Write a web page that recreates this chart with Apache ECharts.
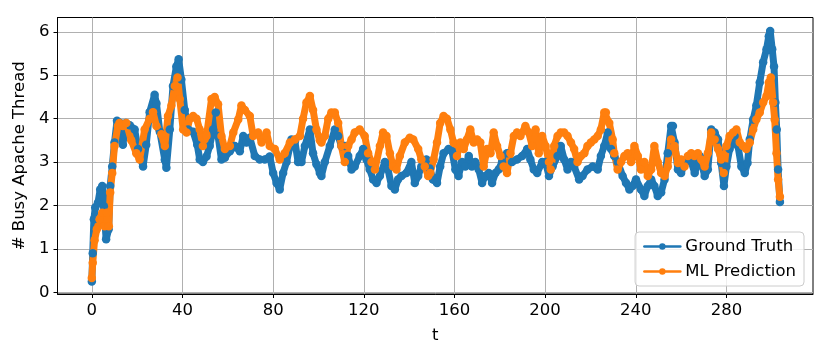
<!DOCTYPE html>
<html>
<head>
<meta charset="utf-8">
<script src="https://cdn.jsdelivr.net/npm/echarts@6/dist/echarts.min.js"></script>
<style>
html,body{margin:0;padding:0;background:#fff;}
#chart{width:831px;height:358px;}
</style>
</head>
<body>
<div id="chart"></div>
<script>
// ---- data ----
var xTicks = [0, 40, 80, 120, 160, 200, 240, 280];
var yTicks = [0, 1, 2, 3, 4, 5, 6];

var gtT = [0,0.4,0.9,1.5,2.7,3.7,4.6,5.3,6.3,7.4,8.1,9,10,11.1,12.5,13.7,15,16.7,18.9,20.4,22.6,24,25.5,27.7,28.5,30,32.2,32.9,34.4,35.8,37.3,38.3,39.5,41,42.5,44.7,46.5,47.6,49,50.6,52,53.5,54.7,55.7,57.2,58.7,60.9,63.1,65.3,66.8,68.2,69.7,71.9,74.1,76.3,78.5,80,81.5,82.9,84.4,85.9,88.1,89.6,91,92.5,94,96.2,97.6,99.1,100.6,101.3,102.8,105,107.2,108.7,110.1,111.6,113.1,114.6,116,118.2,119.7,121.2,122.6,124.1,125.6,127.1,129.3,130.7,132.2,133.7,135.1,136.6,138.8,141,142.5,144,145.4,147.6,149.1,150.5,152.3,153.7,155.2,157.4,158.9,160.4,161.8,163.3,164.8,166.3,167.7,169.2,170.7,172.2,173.6,175.1,176.6,178.1,179.5,181,183.2,185.4,187.6,189.9,192.1,193.5,195,196.5,198.7,200.2,201.7,203.3,205.5,206.9,208.4,209.9,211.4,212.8,215,216.5,218.7,221,223.2,224.6,226.1,227.6,229.1,230.5,232,234.2,235.7,237.2,238.6,240.1,242.3,243.8,245.3,246.8,248.2,249.7,251.2,252.7,254.1,255.6,256.4,257.1,258.6,260,262.3,264.5,266,268.2,270.4,271.8,273.3,274.8,276.3,277.7,278.9,280,281.4,283.6,285.1,286.6,288.1,289.3,290.3,291.8,293.2,294.7,296.2,297.7,298.7,299.3,300.2,301,301.6,302.2,302.8,303.6];
var gtV = [0.25,0.9,1.68,1.95,2.06,2.37,2.45,1.98,1.22,1.45,2.45,2.9,3.45,3.95,3.9,3.4,3.9,3.85,3.75,3.3,2.9,3.4,4.15,4.55,4.35,3.7,3.05,2.87,3.75,4.75,5.2,5.37,4.9,4.2,3.75,3.7,3.4,3.06,3.0,3.13,3.37,3.75,4.14,3.6,3.06,3.1,3.25,3.37,3.25,3.6,3.45,3.56,3.14,3.06,3.06,3.13,2.75,2.52,2.37,2.75,3.0,3.52,3.48,3.0,3.0,3.37,3.75,3.2,2.95,2.75,2.68,3.0,3.37,3.75,3.6,3.37,3.37,3.14,2.83,2.9,3.14,3.3,3.06,2.83,2.6,2.52,2.68,3.0,2.83,2.45,2.37,2.6,2.68,2.75,3.0,2.52,2.68,2.9,3.06,2.85,2.6,2.52,2.9,3.2,3.3,3.25,2.83,2.68,3.0,2.9,3.14,2.9,3.0,2.83,2.52,2.68,2.75,2.52,2.75,2.83,3.0,3.2,3.0,3.06,3.14,3.3,3.06,2.83,2.75,3.0,3.0,2.68,2.9,3.14,3.37,3.06,2.83,3.0,2.9,2.6,2.68,2.83,2.9,2.83,3.14,3.37,3.68,3.3,3.14,3.0,2.68,2.52,2.37,2.45,2.6,2.37,2.22,2.45,2.6,2.45,2.22,2.3,2.6,3.2,3.83,3.83,3.45,2.83,2.75,3.06,3.0,2.75,3.14,2.68,2.83,3.75,3.68,3.52,2.98,2.45,2.9,3.3,3.6,3.37,2.9,2.75,2.98,3.52,3.98,4.3,4.83,5.3,5.6,5.9,6.02,5.6,5.2,4.37,3.75,2.83,2.08];

var mlT = [0,0.4,1.2,2.2,3.4,4.6,5.6,6.6,7.5,8.1,9,10,11.5,12.2,13.7,15.2,17.4,19.6,21.1,23.3,25.5,27,28.5,30.7,32.2,33.6,35.1,36.6,37.8,38.8,40.3,41.8,43.2,44.7,46.2,47.6,49,50.6,52.8,54.2,55.7,57.2,58.7,60.9,62.4,64.6,66,67.5,69.7,71.2,73.4,74.9,77.1,78.5,80.7,82.9,85.1,87.4,89.6,91.8,93.2,94.7,96.2,97.6,99.1,100.6,101.3,102.8,104.3,105.7,107.2,108.7,110.1,111.6,113.1,114.6,116,118.2,120.4,121.9,123.4,124.9,127.1,128.5,130,131.5,132.9,134.4,135.9,138.1,140.3,141.8,144,145.4,146.9,148.4,149.3,150.8,152.3,153.7,155.2,156.7,158.2,159.6,161.1,162.6,164.1,165.5,167,168.5,170,171.4,172.9,174.4,175.9,177.3,178.8,180.3,181.7,183.2,184.7,186.2,187.6,189.1,191.3,192.8,194.3,195.8,197.2,198.7,200.2,201.7,202.5,204,205.5,206.9,208.4,209.9,211.4,212.8,214.3,215.8,217.3,218.7,220.2,221.7,223.2,224.6,226.1,226.8,228.3,229.8,230.5,232,233.5,235,236.4,237.9,239.4,240.9,242.3,243.8,245.3,246.8,248.2,249.7,251.2,252.7,254.1,255.6,257.1,258.6,260,261.5,263,264.5,265.9,267.4,268.9,270.4,271.8,273.3,274.8,276.3,277.7,278.8,280,281.4,282.9,284.4,285.9,287.3,288.8,290.3,291.8,293.2,294.7,296.2,297.7,298.7,299.6,300.6,301.3,302.1,302.8,303.6];
var mlV = [0.33,0.68,1.2,1.45,1.68,1.83,1.52,1.83,1.52,2.3,2.75,3.37,3.83,3.9,3.83,3.9,3.5,3.2,3.06,3.75,4.0,4.15,3.83,3.64,3.37,4.06,4.3,4.75,4.95,4.45,3.75,3.68,4.0,4.06,4.0,3.75,3.37,3.6,4.45,4.5,4.33,3.6,3.3,3.37,3.68,3.98,4.3,4.2,4.06,3.6,3.68,3.45,3.68,3.37,3.3,3.06,3.2,3.45,3.52,3.6,4.0,4.37,4.52,4.2,3.75,3.5,3.45,3.6,4.0,4.14,4.14,3.9,3.37,3.0,3.37,3.52,3.68,3.75,3.6,3.2,3.0,2.83,3.37,3.68,3.6,3.2,2.9,2.83,3.14,3.45,3.56,3.52,3.3,3.06,2.9,2.68,2.75,3.06,3.45,3.9,4.06,4.0,3.75,3.45,3.14,3.45,3.3,3.52,3.75,3.45,3.52,3.45,2.9,3.3,3.2,3.68,3.37,3.14,2.9,2.75,3.2,3.6,3.68,3.6,3.83,3.68,3.37,3.75,3.2,3.6,3.37,3.0,2.83,3.37,3.6,3.68,3.68,3.6,3.45,3.3,3.0,3.14,3.2,3.37,3.45,3.52,3.6,3.75,4.14,4.14,3.9,3.52,3.2,2.83,3.0,3.14,3.2,3.0,3.37,3.14,2.83,3.0,2.68,2.83,3.37,3.0,2.75,2.68,2.9,3.52,3.37,2.98,3.06,2.9,3.14,3.2,3.14,3.2,3.06,2.9,3.2,3.68,3.52,3.3,3.06,2.75,3.37,3.6,3.68,3.75,3.45,3.37,3.3,3.45,3.75,3.98,4.14,4.37,4.52,4.83,4.95,4.37,3.98,3.2,2.6,2.2];

function zip(t, v) { var out = []; for (var i = 0; i < t.length; i++) out.push([t[i], v[i]]); return out; }

var FONT = 'DejaVu Sans';
var FS = 16.5;
var chart = echarts.init(document.getElementById('chart'), null, {renderer: 'canvas'});
chart.setOption({
  animation: false,
  backgroundColor: '#ffffff',
  textStyle: {fontFamily: FONT},
  grid: {left: 57.5, right: 18, top: 17.5, bottom: 64, show: true, borderColor: '#000', borderWidth: 1, backgroundColor: 'transparent', outerBoundsMode: 'none'},
  legend: {
    orient: 'vertical', right: 27, bottom: 72,
    backgroundColor: 'rgba(255,255,255,0.8)', borderColor: '#cccccc', borderWidth: 1, borderRadius: 4,
    padding: [6, 8, 6, 8], itemWidth: 36, itemHeight: 8, itemGap: 8,
    lineStyle: {width: 2.5},
    itemStyle: {borderWidth: 0},
    textStyle: {fontFamily: FONT, fontSize: FS, color: '#000'},
    data: ['Ground Truth', 'ML Prediction']
  },
  xAxis: {
    type: 'value', min: -15.15, max: 318.2,
    name: 't', nameLocation: 'middle', nameGap: 33,
    nameTextStyle: {fontFamily: FONT, fontSize: FS, color: '#000'},
    axisLine: {show: true, onZero: false, lineStyle: {color: '#000', width: 1}},
    axisTick: {show: true, inside: false, length: 4, customValues: xTicks, lineStyle: {color: '#000'}},
    axisLabel: {show: true, customValues: xTicks, margin: 8, color: '#000', fontFamily: FONT, fontSize: FS},
    splitLine: {show: true, lineStyle: {color: '#b0b0b0', width: 1}}
  },
  yAxis: {
    type: 'value', min: -0.04, max: 6.33,
    name: '# Busy Apache Thread', nameLocation: 'middle', nameGap: 29,
    nameTextStyle: {fontFamily: FONT, fontSize: FS, color: '#000'},
    axisLine: {show: true, onZero: false, lineStyle: {color: '#000', width: 1}},
    axisTick: {show: true, inside: false, length: 4, customValues: yTicks, lineStyle: {color: '#000'}},
    axisLabel: {show: true, customValues: yTicks, margin: 8, color: '#000', fontFamily: FONT, fontSize: FS},
    splitLine: {show: true, lineStyle: {color: '#b0b0b0', width: 1}}
  },
  series: [
    {name: 'Ground Truth', type: 'line', data: zip(gtT, gtV), symbol: 'circle', symbolSize: 8.5, showAllSymbol: true,
     itemStyle: {color: '#1f77b4'}, lineStyle: {color: '#1f77b4', width: 7, join: 'round', cap: 'round'}},
    {name: 'ML Prediction', type: 'line', data: zip(mlT, mlV), symbol: 'circle', symbolSize: 8.5, showAllSymbol: true,
     itemStyle: {color: '#ff7f0e'}, lineStyle: {color: '#ff7f0e', width: 7, join: 'round', cap: 'round'}}
  ]
});
</script>
</body>
</html>
